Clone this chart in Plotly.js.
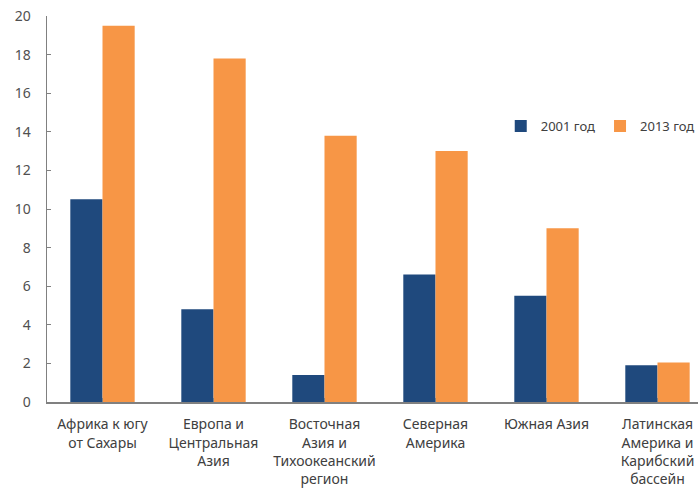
<!DOCTYPE html>
<html>
<head>
<meta charset="utf-8">
<script src="https://cdn.plot.ly/plotly-3.0.1.min.js"></script>
<style>html,body{margin:0;padding:0;background:#fff;}#chart{width:698px;height:495px;}</style>
</head>
<body>
<div id="chart"></div>
<script>
const categories = [
  "Африка к югу<br>от Сахары",
  "Европа и<br>Центральная<br>Азия",
  "Восточная<br>Азия и<br>Тихоокеанский<br>регион",
  "Северная<br>Америка",
  "Южная Азия",
  "Латинская<br>Америка и<br>Карибский<br>бассейн"
];
const values2001 = [10.5, 4.8, 1.4, 6.6, 5.5, 1.9];
const values2013 = [19.5, 17.8, 13.8, 13.0, 9.0, 2.05];
const yTicks = [0, 2, 4, 6, 8, 10, 12, 14, 16, 18, 20];

const idx = categories.map((_, i) => i);
const data = [
  {type: 'bar', name: '2001 год', x: idx, y: values2001, marker: {color: '#1F497D'}},
  {type: 'bar', name: '2013 год', x: idx, y: values2013, marker: {color: '#F79646'}}
];
const layout = {
  width: 698, height: 495,
  margin: {l: 47, r: 0, t: 16, b: 93, autoexpand: false},
  paper_bgcolor: '#fff', plot_bgcolor: '#fff',
  barmode: 'group', bargap: 0.42, bargroupgap: 0,
  font: {family: 'Noto Sans, sans-serif', size: 14, color: '#404040'},
  showlegend: true,
  legend: {orientation: 'h', x: 0.697, y: 0.715, xanchor: 'left', yanchor: 'middle',
           font: {size: 13, color: '#404040'}, itemwidth: 30, traceorder: 'normal'},
  xaxis: {
    range: [-0.5, 5.365], tickmode: 'array', tickvals: idx, ticktext: categories,
    tickson: 'boundaries', ticks: 'inside', ticklen: 4, tickcolor: '#808080',
    showline: true, linecolor: '#808080', linewidth: 1.5, showgrid: false, zeroline: false,
    automargin: false,
    tickfont: {size: 14, color: '#404040'}, ticklabelstandoff: 9
  },
  yaxis: {
    range: [0, 20], tickvals: yTicks, ticks: 'inside', ticklen: 4, tickcolor: '#808080',
    showline: true, linecolor: '#808080', linewidth: 1.5, showgrid: false, zeroline: false,
    automargin: false,
    tickfont: {size: 14, color: '#505050'}, ticklabelstandoff: 12
  }
};
Plotly.newPlot('chart', data, layout, {displayModeBar: false, staticPlot: true});
</script>
</body>
</html>
